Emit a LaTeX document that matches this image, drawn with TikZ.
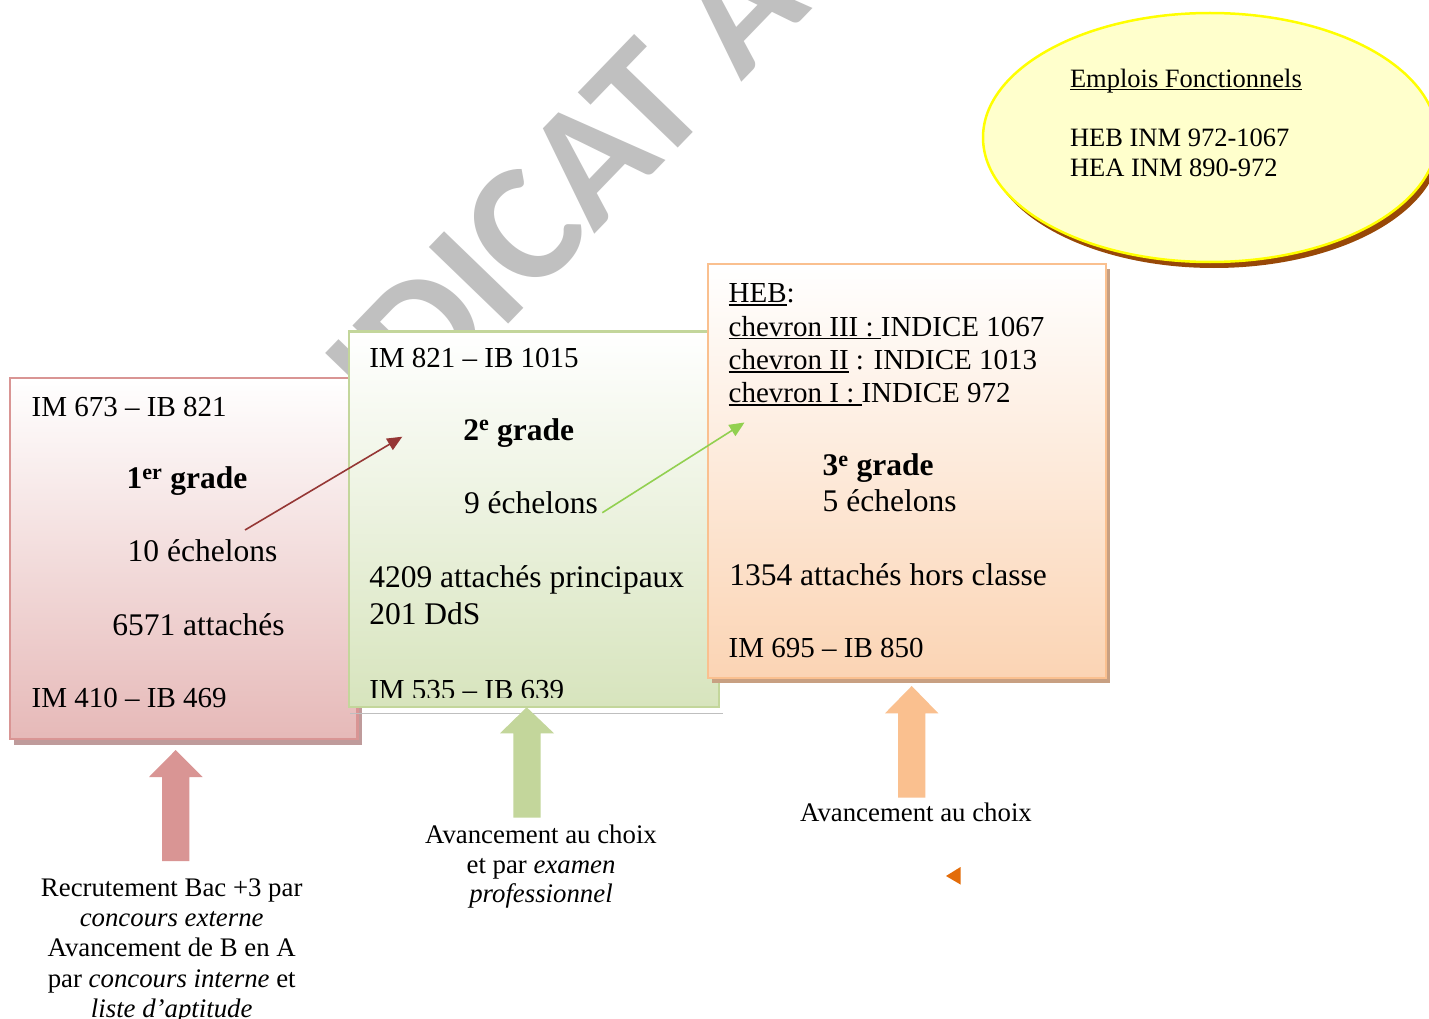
\documentclass[tikz,border=0pt]{standalone}
\usepackage{fontspec}
\setmainfont{Liberation Serif}
\newfontfamily\wmfont{Carlito}
\usetikzlibrary{arrows.meta,shapes.geometric,shadows}

\definecolor{redbd}{HTML}{D99594}
\definecolor{redbot}{HTML}{E6B9B8}
\definecolor{redsh}{HTML}{BF9B9B}
\definecolor{grbd}{HTML}{C3D69B}
\definecolor{grbot}{HTML}{D7E4BD}
\definecolor{orbd}{HTML}{FAC08F}
\definecolor{orbot}{HTML}{FBD4B4}
\definecolor{orsh}{HTML}{C8A082}
\definecolor{ellfill}{HTML}{FFFFCC}
\definecolor{ellbd}{HTML}{FFFF00}
\definecolor{ellsh}{HTML}{984807}
\definecolor{darkred}{HTML}{953735}
\definecolor{lgreen}{HTML}{92D050}
\definecolor{dorange}{HTML}{E36C09}
\definecolor{wmgray}{HTML}{C0C0C0}

\newcommand\fbig{\fontsize{31.5}{34}\selectfont}
\newcommand\fsmall{\fontsize{29}{33}\selectfont}
\newcommand\fell{\fontsize{26.5}{30}\selectfont}
\newcommand\flab{\fontsize{26.8}{30.4}\selectfont}
\newcommand\myul[1]{\leavevmode\setbox0=\hbox{#1}\rlap{\rule[-0.12em]{\wd0}{0.06em}}\box0\relax}

\begin{document}
\begin{tikzpicture}[x=1pt,y=-1pt,
  txt/.style={inner sep=0pt,outer sep=0pt,anchor=base west},
  lab/.style={inner sep=0pt,outer sep=0pt,anchor=base,font=\flab},
  gradebox/.style={draw,line width=2.2pt,inner sep=0pt,outer sep=0pt,anchor=north west,shading=axis,top color=white},
  wm/.style={inner sep=0pt,outer sep=0pt,rotate=46,text=wmgray,font=\wmfont\bfseries\fontsize{170}{170}\selectfont},
  conn/.style={line width=1.6pt,-{Triangle[length=15pt,width=13pt]}}
]
\useasboundingbox (0,0) rectangle (1429,1019);
\clip (0,0) rectangle (1429,1019);
\fill[white] (0,0) rectangle (1429,1019);

% watermark
\coordinate (wmref) at (500,332);
\node[wm,anchor=base west] (wmb) at (wmref) {ICAT AU};
\node[wm,anchor=base east] (wma) at (wmref) {ND};

% grade boxes
\node[gradebox,draw=redbd,bottom color=redbot,minimum width=347.5pt,minimum height=361.5pt,
  drop shadow={shadow xshift=4pt,shadow yshift=-6pt,fill=redsh,opacity=1}] (red) at (10,377.7) {};
\node[gradebox,draw=grbd,bottom color=grbot,minimum width=370pt,minimum height=375.5pt] (green) at (349.3,331.5) {};
\draw[black!25,line width=0.8pt] (350,713) -- (723,713);
\node[gradebox,draw=orbd,bottom color=orbot,minimum width=398.5pt,minimum height=413.5pt,
  drop shadow={shadow xshift=4pt,shadow yshift=-5pt,fill=orsh,opacity=1}] (orange) at (707.7,264.3) {};

% ellipse
\node[ellipse,draw=ellbd,fill=ellfill,line width=2.5pt,minimum width=454pt,minimum height=249pt,inner sep=0pt,
  drop shadow={shadow xshift=4pt,shadow yshift=-6pt,fill=ellsh,opacity=1}] (ell) at (1210,137.5) {};
\node[txt,font=\fell] (e1) at (1070,87.3) {\myul{Emplois Fonctionnels}};
\node[txt,font=\fell] (e2) at (1070,146.7) {HEB INM 972-1067};
\node[txt,font=\fell] (e3) at (1070,176.7) {HEA INM 890-972};

% red box texts
\node[txt,font=\fsmall] (r1) at (31.7,416) {IM 673 – IB 821};
\node[txt,font=\fbig\bfseries] (r2) at (126.7,488.3) {1\textsuperscript{er} grade};
\node[txt,font=\fbig] (r3) at (127.7,561.7) {10 échelons};
\node[txt,font=\fbig] (r4) at (112.3,635) {6571 attachés};
\node[txt,font=\fsmall] (r5) at (31.7,707.3) {IM 410 – IB 469};

% green box texts
\node[txt,font=\fsmall] (g1) at (369.3,367.7) {IM 821 – IB 1015};
\node[txt,font=\fbig\bfseries] (g2) at (463.3,440) {2\textsuperscript{e} grade};
\node[txt,font=\fbig] (g3) at (464,513.3) {9 échelons};
\node[txt,font=\fbig] (g4) at (369.3,587.7) {4209 attachés principaux};
\node[txt,font=\fbig] (g5) at (369.3,624) {201 DdS};
\begin{scope}
\clip (350,600) rectangle (717,697.5);
\node[txt,font=\fsmall] (g6) at (369.3,699) {IM 535 – IB 639};
\end{scope}

% orange box texts
\node[txt,font=\fsmall] (o1) at (728.7,302.3) {\myul{HEB}:};
\node[txt,font=\fsmall] (o2) at (728.7,336) {\myul{chevron III :\ }INDICE 1067};
\node[txt,font=\fsmall] (o3) at (728.7,369.3) {\myul{chevron II} : INDICE 1013};
\node[txt,font=\fsmall] (o4) at (728.7,402.7) {\myul{chevron I :\ }INDICE 972};
\node[txt,font=\fbig\bfseries] (o5) at (822.7,475.7) {3\textsuperscript{e} grade};
\node[txt,font=\fbig] (o6) at (822.7,511) {5 échelons};
\node[txt,font=\fbig] (o7) at (729.3,585) {1354 attachés hors classe};
\node[txt,font=\fsmall] (o8) at (728.7,657.3) {IM 695 – IB 850};

% connectors
\coordinate (ca1) at (245,530);
\coordinate (ca2) at (402.3,436.7);
\draw[conn,darkred] (ca1) -- (ca2);
\coordinate (cb1) at (602.3,512.7);
\coordinate (cb2) at (744.5,422.5);
\draw[conn,lgreen] (cb1) -- (cb2);

% block arrows
\fill[redbd] (162,861) -- (162,777) -- (149,777) -- (175.7,750) -- (202.7,777) -- (189.3,777) -- (189.3,861) -- cycle;
\fill[grbd] (513.3,817.7) -- (513.3,733.3) -- (500,733.3) -- (526.7,707.3) -- (554,733.3) -- (540.7,733.3) -- (540.7,817.7) -- cycle;
\fill[orbd] (898,797.7) -- (898,713.3) -- (885,713.3) -- (911.7,686) -- (938.3,713.3) -- (925.3,713.3) -- (925.3,797.7) -- cycle;

% small triangle
\fill[dorange] (946,876) -- (960.5,867) -- (960.5,884.5) -- cycle;

% labels
\node[lab] (l1) at (171.7,896) {Recrutement Bac +3 par};
\node[lab] (l2) at (171.7,926) {\textit{concours externe}};
\node[lab] (l3) at (171.7,956.5) {Avancement de B en A};
\node[lab] (l4) at (171.7,987) {par \textit{concours interne} et};
\node[lab] (l5) at (171.7,1017.5) {\textit{liste d’aptitude}};
\node[lab] (m1) at (541,843) {Avancement au choix};
\node[lab] (m2) at (541,873) {et par \textit{examen}};
\node[lab] (m3) at (541,902.5) {\textit{professionnel}};
\node[lab] (n1) at (916,821) {Avancement au choix};
\end{tikzpicture}
\end{document}
